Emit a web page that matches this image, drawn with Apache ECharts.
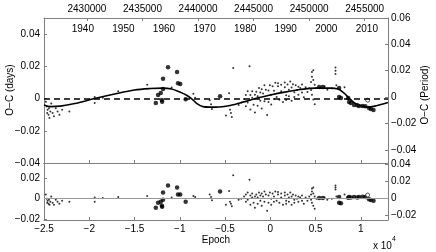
<!DOCTYPE html>
<html><head><meta charset="utf-8">
<script src="https://cdn.jsdelivr.net/npm/echarts@6/dist/echarts.min.js"></script>
<style>html,body{margin:0;padding:0;background:#fff}#c{width:436px;height:252px}</style>
</head><body><div id="c"></div>
<script>
const epochTicks = [-25000,-20000,-15000,-10000,-5000,0,5000,10000];
const jdTicks = [2430000,2435000,2440000,2445000,2450000,2455000];
const yearTicks = [1940,1950,1960,1970,1980,1990,2000,2010];
const ocDaysTicks = [-0.04,-0.02,0,0.02,0.04];
const ocPeriodTicks = [-0.04,-0.02,0,0.02,0.04,0.06];
const resDaysTicks = [-0.02,0,0.02];
const resPeriodTicks = [-0.02,0,0.02,0.04];

const fitCurve = [[-25000,-0.0040],[-24300,-0.0050],[-23200,-0.0047],[-21600,-0.0031],[-19400,0.0000],[-17200,0.0028],[-15000,0.0053],[-13300,0.0062],[-11900,0.0065],[-10900,0.0059],[-10000,0.0040],[-9200,0.0019],[-8650,-0.0003],[-8100,-0.0031],[-7450,-0.0050],[-6650,-0.0053],[-6000,-0.0053],[-4450,-0.0043],[-2800,-0.0019],[-1450,0.0003],[0,0.0022],[1600,0.0040],[3300,0.0056],[4950,0.0065],[6600,0.0065],[7500,0.0059],[8150,0.0034],[8700,0.0003],[9250,-0.0025],[9900,-0.0043],[10700,-0.0053],[11550,-0.0047],[13000,-0.0025]];

const ocSmall = [[-24800,-0.002],[-24700,-0.005],[-24650,-0.009],[-24600,-0.007],[-24500,-0.010],[-24450,-0.006],[-24400,-0.012],[-24300,-0.008],[-24200,-0.003],[-24050,-0.009],[-23900,-0.011],[-23700,-0.006],[-23500,-0.008],[-23300,-0.010],[-23000,-0.007],[-22200,-0.008],
[-19400,0.0010],[-19400,-0.0028],[-18500,0.0005],[-16800,0.0045],[-13600,0.0085],[-10900,0.0068],[-8500,0.0030],[-8300,0.0005],[-6700,-0.001],[-6550,-0.0035],[-6450,-0.0065],
[-4900,-0.0105],[-4550,0.0033],[-4450,-0.0070],[-4350,-0.0090],[-4250,-0.0115],[-4100,0.019],[-3500,-0.0040],[-3200,-0.0025],[-2900,-0.0002],
[-2700,0.0022],[-2700,-0.0047],[-2500,0.0046],[-2500,-0.0024],[-2300,0.0200],[-2200,0.0022],[-2200,-0.0068],[-2000,0.0045],[-2000,0.0005],[-1850,-0.0039],[-1700,0.0024],[-1700,-0.0086],[-1550,0.0043],[-1400,0.0015],[-1400,-0.0045],[-1250,0.0066],[-1100,-0.0013],[-1100,0.0037],[-950,0.0058],[-950,-0.0062],[-800,0.0032],[-650,-0.0017],[-650,0.0083],[-500,0.0055],[-350,-0.0102],[-200,0.0050],[-200,-0.0021],[-50,0.0082],
[100,0.0023],[100,-0.0037],[250,0.0076],[400,0.0048],[400,-0.0003],[550,0.0098],[700,0.0010],[850,0.0076],[850,0.0095],[1000,-0.0007],[1200,0.0085],[1200,0.0046],[1400,-0.0022],[1600,0.0100],[1600,0.0070],[1750,0.0020],[1750,-0.0009],[1900,0.0087],[2050,0.0055],[2050,0.0015],[2200,0.0106],[2350,-0.0013],[2350,0.0068],[2500,0.0089],[2650,0.0039],[2650,0.0009],[2800,0.0082],[2950,0.0053],[3100,0.0024],[3100,0.0074],[3300,0.0066],[3500,0.0037],[3500,0.0087],[3700,0.0008],[3900,0.0070],[4100,0.0041],[4300,0.0064],
[4500,0.0103],[4500,0.0053],[4600,0.0165],[4600,0.0135],[4600,0.0024],[4750,0.0175],[4750,0.0115],[4750,-0.0006],[4900,-0.0035],[4900,0.0085],[5100,0.0065],[6000,0.0076],[6300,0.0055],[6800,0.0064],[7200,0.0193],[7200,0.0173],[7200,0.0153],[7300,0.0083],[8200,0.0070]];

const ocLarge = [[-12650,-0.0027],[-12400,0.0022],[-12100,0.0034],[-11980,-0.0009],[-11950,-0.0020],[-11850,0.0059],[-11850,0.0123],[-11300,0.0195],[-10300,0.0165],[-10200,0.0095],[-9950,0.0090],[-9350,-0.0005],[-5550,0.0015],
[5400,0.0072],[5800,0.0072],[7600,0.0066],[7600,0.0009],[7800,0.0003],[8600,0.0003],[8700,-0.0022],[8900,-0.0028],[9250,-0.0040],[9600,-0.0042],[9800,-0.0046],[10200,-0.0046],[10500,-0.0048],[10900,-0.0059],[11100,-0.0065],[11400,-0.0071]];

const ocOpen = [[10750,-0.0010]];

const resSmall = [[-24800,0.004],[-24700,0.000],[-24650,-0.004],[-24600,-0.002],[-24500,-0.005],[-24450,-0.001],[-24400,-0.006],[-24300,-0.003],[-24200,0.002],[-24050,-0.004],[-23900,-0.006],[-23700,-0.001],[-23500,-0.003],[-23300,-0.005],[-23000,-0.002],[-22200,-0.003],
[-19400,0.001],[-19400,-0.003],[-18500,0.0005],[-16800,0.0015],[-13600,0.0027],[-10900,0.001],[-8500,0.0025],[-8300,0.0015],[-6700,0.004],[-6550,0.0015],[-6450,-0.0015],
[-4900,-0.006],[-4550,0.0075],[-4450,-0.003],[-4350,-0.005],[-4250,-0.0075],[-4100,0.023],[-3500,-0.001],[-3200,0.000],[-2900,0.002],
[-2700,0.004],[-2700,-0.003],[-2500,0.006],[-2500,-0.001],[-2300,0.0185],[-2200,0.003],[-2200,-0.006],[-2000,0.005],[-2000,0.001],[-1850,-0.004],[-1700,0.002],[-1700,-0.009],[-1550,0.004],[-1400,0.001],[-1400,-0.005],[-1250,0.006],[-1100,-0.002],[-1100,0.003],[-950,0.005],[-950,-0.007],[-800,0.002],[-650,-0.003],[-650,0.007],[-500,0.004],[-350,-0.012],[-200,0.003],[-200,-0.004],[-50,0.006],
[100,0.000],[100,-0.006],[250,0.005],[400,0.002],[400,-0.003],[550,0.007],[700,-0.002],[850,0.004],[850,0.0065],[1000,-0.004],[1200,0.005],[1200,0.001],[1400,-0.006],[1600,0.006],[1600,0.003],[1750,-0.002],[1750,-0.005],[1900,0.004],[2050,0.001],[2050,-0.003],[2200,0.006],[2350,-0.006],[2350,0.002],[2500,0.004],[2650,-0.001],[2650,-0.004],[2800,0.003],[2950,0.000],[3100,-0.003],[3100,0.002],[3300,0.001],[3500,-0.002],[3500,0.003],[3700,-0.005],[3900,0.001],[4100,-0.002],[4300,0.002],
[4500,0.004],[4500,-0.001],[4600,0.010],[4600,0.007],[4600,-0.004],[4750,0.011],[4750,0.005],[4750,-0.007],[4900,-0.010],[4900,0.002],[5100,0.000],[6000,0.001],[6300,-0.001],[6800,0.000],[7200,0.013],[7200,0.011],[7200,0.009],[7300,0.002],[8200,0.004]];

const resLarge = [[-12650,-0.009],[-12400,-0.004],[-12100,-0.003],[-11980,-0.007],[-11950,-0.008],[-11850,-0.001],[-11850,0.006],[-11300,0.013],[-10300,0.011],[-10200,0.004],[-9950,0.004],[-9350,-0.003],[-5550,0.007],
[5400,0.0006],[5800,0.0006],[7600,0.0015],[7600,-0.004],[7800,-0.0045],[8600,0.0008],[8700,0.0015],[8900,0.0012],[9250,0.0015],[9600,0.0012],[9800,0.0015],[10200,0.0018],[10500,0.0015],[10900,-0.0006],[11100,-0.0013],[11400,-0.0020]];

const resOpen = [[10750,0.0035]];

const GRAY = '#808080';
const FONT = 'Liberation Sans, Arial, Helvetica, sans-serif';
function fmtNum(v){ if (Math.abs(v) < 1e-12) return '0'; return (v<0?'\u2212':'') + Math.abs(v).toFixed(2); }
function fmtEpoch(v){ const t = v/1e4; if (Math.abs(t)<1e-12) return '0'; return (t<0?'\u2212':'') + String(Math.abs(t)); }

const E_MIN = -25000, E_MAX = 13000;
const JD_MIN = 2426133, JD_MAX = 2457100;
const YR_MIN = 1930.425, YR_MAX = 2015.21;

const lbl = {color:'#000', fontSize:10, fontFamily:FONT};
function xBase(extra){ return Object.assign({type:'value', splitLine:{show:false}, axisLine:{show:true, onZero:false, lineStyle:{color:GRAY, width:1}}, axisTick:{show:true, inside:true, length:3, lineStyle:{color:GRAY}}, axisLabel:Object.assign({}, lbl)}, extra); }

const chart = echarts.init(document.getElementById('c'), null, {renderer:'canvas'});
chart.setOption({
  animation:false,
  backgroundColor:'#fff',
  textStyle:{fontFamily:FONT},
  grid:[
    {left:44, top:18, width:344, height:145, containLabel:false, outerBoundsMode:'none'},
    {left:44, top:163, width:344, height:57, containLabel:false, outerBoundsMode:'none'}
  ],
  xAxis:[
    xBase({gridIndex:0, position:'bottom', min:E_MIN, max:E_MAX, axisTick:{show:true, inside:true, length:3, customValues:epochTicks, lineStyle:{color:GRAY}}, axisLabel:{show:false}}),
    xBase({gridIndex:0, position:'top', min:JD_MIN, max:JD_MAX, axisTick:{show:true, inside:true, length:3, customValues:jdTicks, lineStyle:{color:GRAY}}, axisLabel:Object.assign({customValues:jdTicks, margin:4, formatter:v=>String(v)}, lbl)}),
    xBase({gridIndex:0, position:'top', min:YR_MIN, max:YR_MAX, axisLine:{show:false, onZero:false}, axisTick:{show:false}, axisLabel:Object.assign({customValues:yearTicks, inside:true, margin:6, formatter:v=>String(v)}, lbl)}),
    xBase({gridIndex:1, position:'bottom', min:E_MIN, max:E_MAX, name:'Epoch', nameLocation:'middle', nameGap:15, nameTextStyle:Object.assign({}, lbl),
      axisTick:{show:true, inside:true, length:3, customValues:epochTicks, lineStyle:{color:GRAY}}, axisLabel:Object.assign({customValues:epochTicks, margin:4, formatter:fmtEpoch}, lbl)}),
    xBase({gridIndex:1, position:'top', min:E_MIN, max:E_MAX, axisTick:{show:false}, axisLabel:{show:false}})
  ],
  yAxis:[
    {type:'value', gridIndex:0, position:'left', min:-0.04, max:0.05, splitLine:{show:false},
     axisLine:{show:true, onZero:false, lineStyle:{color:GRAY}}, axisTick:{show:true, inside:true, length:3, customValues:ocDaysTicks, lineStyle:{color:GRAY}},
     axisLabel:Object.assign({customValues:ocDaysTicks, margin:4, formatter:fmtNum}, lbl)},
    {type:'value', gridIndex:0, position:'right', min:-0.05, max:0.06, splitLine:{show:false},
     axisLine:{show:true, onZero:false, lineStyle:{color:GRAY}}, axisTick:{show:true, inside:true, length:3, customValues:ocPeriodTicks, lineStyle:{color:GRAY}},
     axisLabel:Object.assign({customValues:ocPeriodTicks, margin:3, formatter:fmtNum}, lbl)},
    {type:'value', gridIndex:1, position:'left', min:-0.021, max:0.035, splitLine:{show:false},
     axisLine:{show:true, onZero:false, lineStyle:{color:GRAY}}, axisTick:{show:true, inside:true, length:3, customValues:resDaysTicks, lineStyle:{color:GRAY}},
     axisLabel:Object.assign({customValues:resDaysTicks, margin:4, formatter:fmtNum}, lbl)},
    {type:'value', gridIndex:1, position:'right', min:-0.025, max:0.042, splitLine:{show:false},
     axisLine:{show:true, onZero:false, lineStyle:{color:GRAY}}, axisTick:{show:true, inside:true, length:3, customValues:resPeriodTicks, lineStyle:{color:GRAY}},
     axisLabel:Object.assign({customValues:resPeriodTicks, margin:3, formatter:fmtNum}, lbl)}
  ],
  series:[
    {type:'scatter', xAxisIndex:0, yAxisIndex:0, data:ocSmall, symbol:'circle', symbolSize:2, itemStyle:{color:'#000'}, silent:true},
    {type:'scatter', xAxisIndex:0, yAxisIndex:0, data:ocLarge, symbol:'circle', symbolSize:4.5, itemStyle:{color:'#000'}, silent:true},
    {type:'scatter', xAxisIndex:0, yAxisIndex:0, data:ocOpen, symbol:'circle', symbolSize:4, itemStyle:{color:'#fff', borderColor:'#000', borderWidth:0.8}, silent:true},
    {type:'line', xAxisIndex:0, yAxisIndex:0, data:fitCurve, smooth:0.3, showSymbol:false, lineStyle:{color:'#000', width:1.6}, silent:true, z:5,
     markLine:{silent:true, symbol:['none','none'], label:{show:false}, lineStyle:{color:'#000', width:1.6, type:[6,4]}, data:[{yAxis:0}]}},
    {type:'line', xAxisIndex:3, yAxisIndex:2, data:[], showSymbol:false, silent:true,
     markLine:{silent:true, symbol:['none','none'], label:{show:false}, lineStyle:{color:'#999', width:1, type:'solid'}, data:[{yAxis:0}]}},
    {type:'scatter', xAxisIndex:3, yAxisIndex:2, data:resSmall, symbol:'circle', symbolSize:2, itemStyle:{color:'#000'}, silent:true},
    {type:'scatter', xAxisIndex:3, yAxisIndex:2, data:resLarge, symbol:'circle', symbolSize:4.5, itemStyle:{color:'#000'}, silent:true},
    {type:'scatter', xAxisIndex:3, yAxisIndex:2, data:resOpen, symbol:'circle', symbolSize:4, itemStyle:{color:'#fff', borderColor:'#000', borderWidth:0.8}, silent:true}
  ],
  graphic:[
    {type:'text', x:10, y:90, rotation:Math.PI/2, style:{text:'O\u2212C (days)', fill:'#000', font:'10px '+FONT, align:'center', verticalAlign:'middle'}},
    {type:'text', x:425, y:95, rotation:Math.PI/2, style:{text:'O\u2212C (Period)', fill:'#000', font:'10px '+FONT, align:'center', verticalAlign:'middle'}},
    {type:'text', x:373, y:241, style:{text:'x 10', fill:'#000', font:'10px '+FONT}},
    {type:'text', x:392, y:236, style:{text:'4', fill:'#000', font:'7px '+FONT}}
  ]
});
</script></body></html>
